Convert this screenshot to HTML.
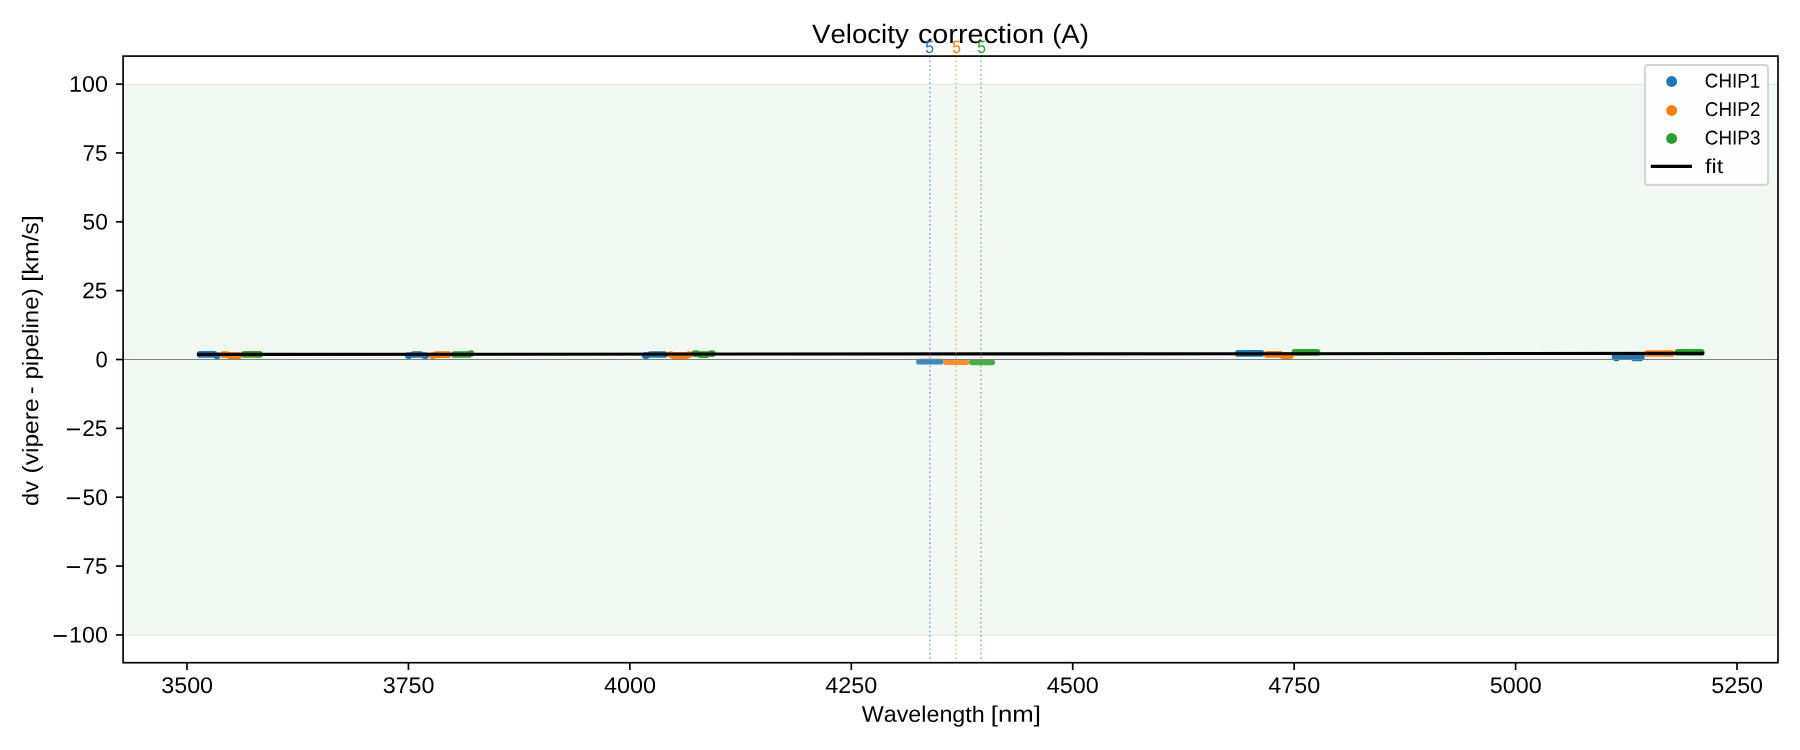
<!DOCTYPE html>
<html><head><meta charset="utf-8"><title>Velocity correction (A)</title>
<style>html,body{margin:0;padding:0;background:#fff;overflow:hidden}body{width:1800px;height:750px;font-family:"Liberation Sans",sans-serif}svg{display:block;position:absolute;left:0;top:0}text{font-family:"Liberation Sans",sans-serif;fill:#000;font-kerning:none}</style></head><body>
<svg width="1800" height="750" viewBox="0 0 1800 750">
<defs><filter id="bl" filterUnits="userSpaceOnUse" x="900" y="345" width="120" height="35"><feGaussianBlur stdDeviation="0.7"/></filter></defs>
<rect x="0" y="0" width="1800" height="750" fill="#ffffff"/>
<rect x="123.1" y="84.5" width="1654.9" height="550.5" fill="#f2f8f2"/>
<line x1="123.1" x2="1778.0" y1="84.5" y2="84.5" stroke="#e3eee3" stroke-width="1.4"/>
<line x1="123.1" x2="1778.0" y1="635" y2="635" stroke="#e3eee3" stroke-width="1.4"/>
<g filter="url(#bl)">
<line x1="919.0" x2="940.6" y1="361.7" y2="361.7" stroke="#1f77b4" stroke-width="5.7" stroke-linecap="round" stroke-opacity="0.85"/>
<line x1="946.0" x2="966.6" y1="362.1" y2="362.1" stroke="#ff7f0e" stroke-width="5.7" stroke-linecap="round" stroke-opacity="0.85"/>
<line x1="972.0" x2="992.2" y1="362.3" y2="362.3" stroke="#2ca02c" stroke-width="5.7" stroke-linecap="round" stroke-opacity="0.85"/>
</g>
<line x1="200.2" x2="214.2" y1="354.4" y2="354.4" stroke="#1f77b4" stroke-width="6.7" stroke-linecap="round"/>
<line x1="216.8" x2="217.2" y1="355.7" y2="355.7" stroke="#1f77b4" stroke-width="6.7" stroke-linecap="round"/>
<line x1="223.2" x2="227.2" y1="354.6" y2="354.6" stroke="#ff7f0e" stroke-width="6.7" stroke-linecap="round"/>
<line x1="229.8" x2="238.6" y1="355.7" y2="355.7" stroke="#ff7f0e" stroke-width="6.7" stroke-linecap="round"/>
<line x1="244.4" x2="259.5" y1="354.4" y2="354.4" stroke="#2ca02c" stroke-width="6.7" stroke-linecap="round"/>
<line x1="408.2" x2="409.1" y1="355.6" y2="355.6" stroke="#1f77b4" stroke-width="6.7" stroke-linecap="round"/>
<line x1="413.4" x2="420.6" y1="354.5" y2="354.5" stroke="#1f77b4" stroke-width="6.7" stroke-linecap="round"/>
<line x1="424.4" x2="425.8" y1="355.6" y2="355.6" stroke="#1f77b4" stroke-width="6.7" stroke-linecap="round"/>
<line x1="432.2" x2="433.6" y1="355.6" y2="355.6" stroke="#ff7f0e" stroke-width="6.7" stroke-linecap="round"/>
<line x1="436.4" x2="448.2" y1="354.6" y2="354.6" stroke="#ff7f0e" stroke-width="6.7" stroke-linecap="round"/>
<line x1="454.5" x2="468.6" y1="354.5" y2="354.5" stroke="#2ca02c" stroke-width="6.7" stroke-linecap="round"/>
<line x1="470.9" x2="470.8" y1="353.5" y2="353.5" stroke="#2ca02c" stroke-width="6.7" stroke-linecap="round"/>
<line x1="645.1" x2="646.6" y1="355.6" y2="355.6" stroke="#1f77b4" stroke-width="6.7" stroke-linecap="round"/>
<line x1="650.4" x2="664.5" y1="354.5" y2="354.5" stroke="#1f77b4" stroke-width="6.7" stroke-linecap="round"/>
<line x1="671.0" x2="670.6" y1="354.6" y2="354.6" stroke="#ff7f0e" stroke-width="6.7" stroke-linecap="round"/>
<line x1="673.4" x2="686.6" y1="355.6" y2="355.6" stroke="#ff7f0e" stroke-width="6.7" stroke-linecap="round"/>
<line x1="689.4" x2="688.9" y1="354.6" y2="354.6" stroke="#ff7f0e" stroke-width="6.7" stroke-linecap="round"/>
<line x1="694.8" x2="696.6" y1="353.6" y2="353.6" stroke="#2ca02c" stroke-width="6.7" stroke-linecap="round"/>
<line x1="700.4" x2="706.6" y1="354.6" y2="354.6" stroke="#2ca02c" stroke-width="6.7" stroke-linecap="round"/>
<line x1="710.9" x2="712.5" y1="353.6" y2="353.6" stroke="#2ca02c" stroke-width="6.7" stroke-linecap="round"/>
<line x1="1238.2" x2="1261.2" y1="353.4" y2="353.4" stroke="#1f77b4" stroke-width="6.7" stroke-linecap="round"/>
<line x1="1267.1" x2="1280.2" y1="354.4" y2="354.4" stroke="#ff7f0e" stroke-width="6.7" stroke-linecap="round"/>
<line x1="1282.8" x2="1290.2" y1="355.7" y2="355.7" stroke="#ff7f0e" stroke-width="6.7" stroke-linecap="round"/>
<line x1="1294.9" x2="1316.9" y1="352.4" y2="352.4" stroke="#2ca02c" stroke-width="6.7" stroke-linecap="round"/>
<line x1="1615.0" x2="1641.5" y1="356.5" y2="356.5" stroke="#1f77b4" stroke-width="6.7" stroke-linecap="round"/>
<line x1="1616.3" x2="1616.7" y1="358.0" y2="358.0" stroke="#1f77b4" stroke-width="6.7" stroke-linecap="round"/>
<line x1="1634.3" x2="1640.0" y1="358.0" y2="358.0" stroke="#1f77b4" stroke-width="6.7" stroke-linecap="round"/>
<line x1="1647.4" x2="1671.6" y1="353.5" y2="353.5" stroke="#ff7f0e" stroke-width="6.7" stroke-linecap="round"/>
<line x1="1677.8" x2="1701.2" y1="352.4" y2="352.4" stroke="#2ca02c" stroke-width="6.7" stroke-linecap="round"/>
<line x1="123.1" x2="1778.0" y1="359.4" y2="359.4" stroke="#808080" stroke-width="1.05"/>
<line x1="198.4" y1="354.4" x2="1702.6" y2="353.4" stroke="#000" stroke-width="3.1" stroke-linecap="square"/>
<line x1="929.9" x2="929.9" y1="56.1" y2="662.7" stroke="#1f77b4" stroke-opacity="0.5" stroke-width="1.67" stroke-dasharray="1.67 2.75"/>
<line x1="956.0" x2="956.0" y1="56.1" y2="662.7" stroke="#ff7f0e" stroke-opacity="0.5" stroke-width="1.67" stroke-dasharray="1.67 2.75"/>
<line x1="981.0" x2="981.0" y1="56.1" y2="662.7" stroke="#2ca02c" stroke-opacity="0.5" stroke-width="1.67" stroke-dasharray="1.67 2.75"/>
<rect x="123.1" y="56.1" width="1654.9" height="606.6" fill="none" stroke="#000" stroke-width="1.67"/>
<line x1="187.0" x2="187.0" y1="662.7" y2="670.0" stroke="#000" stroke-width="1.67"/>
<line x1="408.43" x2="408.43" y1="662.7" y2="670.0" stroke="#000" stroke-width="1.67"/>
<line x1="629.86" x2="629.86" y1="662.7" y2="670.0" stroke="#000" stroke-width="1.67"/>
<line x1="851.29" x2="851.29" y1="662.7" y2="670.0" stroke="#000" stroke-width="1.67"/>
<line x1="1072.72" x2="1072.72" y1="662.7" y2="670.0" stroke="#000" stroke-width="1.67"/>
<line x1="1294.15" x2="1294.15" y1="662.7" y2="670.0" stroke="#000" stroke-width="1.67"/>
<line x1="1515.58" x2="1515.58" y1="662.7" y2="670.0" stroke="#000" stroke-width="1.67"/>
<line x1="1737.01" x2="1737.01" y1="662.7" y2="670.0" stroke="#000" stroke-width="1.67"/>
<line x1="115.9" x2="123.1" y1="84.1" y2="84.1" stroke="#000" stroke-width="1.67"/>
<line x1="115.9" x2="123.1" y1="152.95" y2="152.95" stroke="#000" stroke-width="1.67"/>
<line x1="115.9" x2="123.1" y1="221.8" y2="221.8" stroke="#000" stroke-width="1.67"/>
<line x1="115.9" x2="123.1" y1="290.65" y2="290.65" stroke="#000" stroke-width="1.67"/>
<line x1="115.9" x2="123.1" y1="359.5" y2="359.5" stroke="#000" stroke-width="1.67"/>
<line x1="115.9" x2="123.1" y1="428.35" y2="428.35" stroke="#000" stroke-width="1.67"/>
<line x1="115.9" x2="123.1" y1="497.2" y2="497.2" stroke="#000" stroke-width="1.67"/>
<line x1="115.9" x2="123.1" y1="566.05" y2="566.05" stroke="#000" stroke-width="1.67"/>
<line x1="115.9" x2="123.1" y1="634.9" y2="634.9" stroke="#000" stroke-width="1.67"/>
<g opacity="0.999">
<text transform="translate(811.98 42.9) rotate(0.05)" font-size="26.5" textLength="96.78" lengthAdjust="spacingAndGlyphs">Velocity</text>
<text transform="translate(917.98 42.9) rotate(0.05)" font-size="26.5" textLength="126.19" lengthAdjust="spacingAndGlyphs">correction</text>
<text transform="translate(1052.19 42.9) rotate(0.05)" font-size="26.5" textLength="36.72" lengthAdjust="spacingAndGlyphs">(A)</text>
<text transform="translate(861.80 721.8) rotate(0.05)" font-size="22.6" textLength="122.91" lengthAdjust="spacingAndGlyphs">Wavelength</text>
<text transform="translate(990.86 721.8) rotate(0.05)" font-size="22.6" textLength="50.18" lengthAdjust="spacingAndGlyphs">[nm]</text>
<text transform="translate(38.3 506.00) rotate(-89.95)" font-size="22.6" textLength="25.08" lengthAdjust="spacingAndGlyphs">dv</text>
<text transform="translate(38.3 473.52) rotate(-89.95)" font-size="22.6" textLength="75.12" lengthAdjust="spacingAndGlyphs">(vipere</text>
<text transform="translate(38.3 394.00) rotate(-89.95)" font-size="22.6" textLength="7.50" lengthAdjust="spacingAndGlyphs">-</text>
<text transform="translate(38.3 379.56) rotate(-89.95)" font-size="22.6" textLength="91.25" lengthAdjust="spacingAndGlyphs">pipeline)</text>
<text transform="translate(38.3 281.78) rotate(-89.95)" font-size="22.6" textLength="66.56" lengthAdjust="spacingAndGlyphs">[km/s]</text>
<text transform="translate(925.18 53.0) rotate(0.05)" font-size="17.7" textLength="8.68" lengthAdjust="spacingAndGlyphs" style="fill:#1f77b4">5</text>
<text transform="translate(952.18 53.0) rotate(0.05)" font-size="17.7" textLength="8.68" lengthAdjust="spacingAndGlyphs" style="fill:#ff7f0e">5</text>
<text transform="translate(977.13 53.0) rotate(0.05)" font-size="17.7" textLength="8.68" lengthAdjust="spacingAndGlyphs" style="fill:#2ca02c">5</text>
<text transform="translate(161.25 692.9) rotate(0.05)" font-size="22.6" textLength="51.83" lengthAdjust="spacingAndGlyphs">3500</text>
<text transform="translate(382.68 692.9) rotate(0.05)" font-size="22.6" textLength="51.83" lengthAdjust="spacingAndGlyphs">3750</text>
<text transform="translate(603.89 692.9) rotate(0.05)" font-size="22.6" textLength="52.05" lengthAdjust="spacingAndGlyphs">4000</text>
<text transform="translate(825.32 692.9) rotate(0.05)" font-size="22.6" textLength="52.05" lengthAdjust="spacingAndGlyphs">4250</text>
<text transform="translate(1046.75 692.9) rotate(0.05)" font-size="22.6" textLength="52.05" lengthAdjust="spacingAndGlyphs">4500</text>
<text transform="translate(1268.18 692.9) rotate(0.05)" font-size="22.6" textLength="52.05" lengthAdjust="spacingAndGlyphs">4750</text>
<text transform="translate(1489.81 692.9) rotate(0.05)" font-size="22.6" textLength="51.85" lengthAdjust="spacingAndGlyphs">5000</text>
<text transform="translate(1711.24 692.9) rotate(0.05)" font-size="22.6" textLength="51.85" lengthAdjust="spacingAndGlyphs">5250</text>
<text transform="translate(69.12 91.8) rotate(0.05)" font-size="22.6" textLength="38.76" lengthAdjust="spacingAndGlyphs">100</text>
<text transform="translate(82.40 160.64999999999998) rotate(0.05)" font-size="22.6" textLength="25.07" lengthAdjust="spacingAndGlyphs">75</text>
<text transform="translate(82.55 229.5) rotate(0.05)" font-size="22.6" textLength="25.31" lengthAdjust="spacingAndGlyphs">50</text>
<text transform="translate(82.24 298.34999999999997) rotate(0.05)" font-size="22.6" textLength="25.24" lengthAdjust="spacingAndGlyphs">25</text>
<text transform="translate(95.61 367.2) rotate(0.05)" font-size="22.6" textLength="12.22" lengthAdjust="spacingAndGlyphs">0</text>
<text transform="translate(82.24 436.05) rotate(0.05)" font-size="22.6" textLength="25.24" lengthAdjust="spacingAndGlyphs">25</text>
<text transform="translate(82.55 504.9) rotate(0.05)" font-size="22.6" textLength="25.31" lengthAdjust="spacingAndGlyphs">50</text>
<text transform="translate(82.40 573.75) rotate(0.05)" font-size="22.6" textLength="25.07" lengthAdjust="spacingAndGlyphs">75</text>
<text transform="translate(69.12 642.6) rotate(0.05)" font-size="22.6" textLength="38.76" lengthAdjust="spacingAndGlyphs">100</text>
<rect x="66.85" y="428.50" width="13.1" height="1.8" fill="#000"/>
<rect x="66.85" y="497.35" width="13.1" height="1.8" fill="#000"/>
<rect x="66.85" y="566.20" width="13.1" height="1.8" fill="#000"/>
<rect x="53.60" y="635.05" width="13.1" height="1.8" fill="#000"/>
</g>
<rect x="1645.0" y="65.0" width="122.95" height="119.9" rx="3" ry="3" fill="#ffffff" fill-opacity="0.8" stroke="#cccccc" stroke-opacity="0.8" stroke-width="2.08"/>
<circle cx="1671.65" cy="81.5" r="5.45" fill="#1f77b4"/>
<circle cx="1671.65" cy="110.5" r="5.45" fill="#ff7f0e"/>
<circle cx="1671.65" cy="138.5" r="5.45" fill="#2ca02c"/>
<line x1="1650.8" x2="1692" y1="166.40" y2="166.40" stroke="#000" stroke-width="3.2"/>
<g opacity="0.999">
<text transform="translate(1704.85 87.6) rotate(0.05)" font-size="19.9" textLength="55.37" lengthAdjust="spacingAndGlyphs">CHIP1</text>
<text transform="translate(1704.84 116.05) rotate(0.05)" font-size="19.9" textLength="55.61" lengthAdjust="spacingAndGlyphs">CHIP2</text>
<text transform="translate(1704.84 144.5) rotate(0.05)" font-size="19.9" textLength="55.59" lengthAdjust="spacingAndGlyphs">CHIP3</text>
<text transform="translate(1705.07 172.9) rotate(0.05)" font-size="19.9" textLength="18.10" lengthAdjust="spacingAndGlyphs">fit</text>
</g>
</svg></body></html>
